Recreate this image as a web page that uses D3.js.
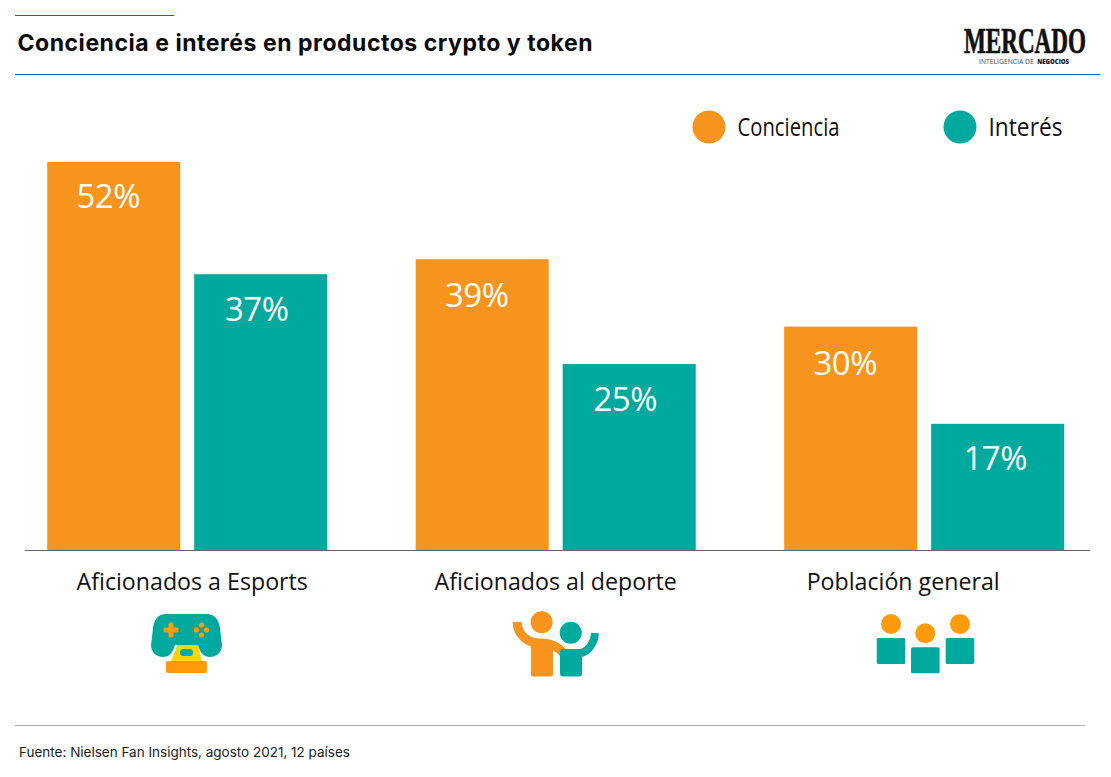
<!DOCTYPE html>
<html>
<head>
<meta charset="utf-8">
<script src="https://cdn.jsdelivr.net/npm/d3@7"></script>
<style>
html, body { margin: 0; padding: 0; background: #fff; }
svg { display: block; }
</style>
</head>
<body>
<svg width="1111" height="777"></svg>
<script>
// data
var categories = ["Aficionados a Esports", "Aficionados al deporte", "Población general"];
var seriesNames = ["Conciencia", "Interés"];
var conciencia = [52, 39, 30];
var interes = [37, 25, 17];

var orange = "#f7941d", teal = "#00a99d", blue = "#0b66c3";
var iconOrange = "#ff9a0a";
var sans = "'Open Sans', sans-serif";
var titleFont = "Inter, sans-serif";

var svg = d3.select("svg");

var x0 = d3.scaleBand().domain(categories).range([47.2, 1064.2]).paddingInner(0.24);
var x1 = d3.scaleBand().domain(seriesNames).range([0, x0.bandwidth()]).paddingInner(0.095);
var y = d3.scaleLinear().domain([0, 52]).range([551, 162]);
var color = d3.scaleOrdinal().domain(seriesNames).range([orange, teal]);

// header
svg.append("line").attr("x1", 15).attr("x2", 174).attr("y1", 15.5).attr("y2", 15.5)
  .attr("stroke", blue).attr("stroke-width", 1);
svg.append("line").attr("x1", 15).attr("x2", 1100).attr("y1", 74.5).attr("y2", 74.5)
  .attr("stroke", blue).attr("stroke-width", 1);
svg.append("text").attr("x", 17.5).attr("y", 51)
  .attr("font-family", titleFont).attr("font-weight", 700).attr("font-size", 23)
  .attr("textLength", 575).attr("fill", "#0a0a0a")
  .text("Conciencia e interés en productos crypto y token");

// logo
svg.append("text").attr("transform", "translate(964,53) scale(0.68,1.06)")
  .attr("font-family", "'Liberation Serif', serif").attr("font-weight", 700).attr("font-size", 34)
  .attr("fill", "#111").attr("stroke", "#111").attr("stroke-width", 0.7)
  .text("MERCADO");
svg.append("text").attr("x", 979).attr("y", 64)
  .attr("font-family", sans).attr("font-size", 6.8).attr("fill", "#444")
  .text("INTELIGENCIA DE");
svg.append("text").attr("x", 1069).attr("y", 64).attr("text-anchor", "end")
  .attr("font-family", sans).attr("font-size", 6).attr("font-weight", 800).attr("fill", "#111")
  .text("NEGOCIOS");

// legend
var legendX = d3.scaleOrdinal().domain(seriesNames).range([709, 960]);
var legendWidth = [102, 74];
var legend = svg.selectAll("g.legend").data(seriesNames).enter().append("g")
  .attr("class", "legend")
  .attr("transform", function(d) { return "translate(" + legendX(d) + ",127)"; });
legend.append("circle").attr("r", 16.5).attr("fill", function(d) { return color(d); });
legend.append("text").attr("x", 28.5).attr("y", 9)
  .attr("font-family", sans).attr("font-size", 25).attr("fill", "#111")
  .attr("textLength", function(d, i) { return legendWidth[i]; })
  .attr("lengthAdjust", "spacingAndGlyphs")
  .text(function(d) { return d; });

// bars
var rows = categories.map(function(c, i) {
  return [
    { cat: c, name: seriesNames[0], value: conciencia[i] },
    { cat: c, name: seriesNames[1], value: interes[i] }
  ];
});
var bars = d3.merge(rows);

svg.selectAll("rect.bar").data(bars).enter().append("rect")
  .attr("class", "bar")
  .attr("x", function(d) { return x0(d.cat) + x1(d.name); })
  .attr("y", function(d) { return y(d.value); })
  .attr("width", x1.bandwidth())
  .attr("height", function(d) { return y(0) - y(d.value); })
  .attr("fill", function(d) { return color(d.name); });

// labels do not sit quite centred in the original
var valueShift = [-5.5, -4, -5.5, -4, -5.5, -2.5];
var valueDrop = [46, 47, 47.5, 47, 48, 46.5];
svg.selectAll("text.val").data(bars).enter().append("text")
  .attr("class", "val")
  .attr("x", function(d, i) { return x0(d.cat) + x1(d.name) + x1.bandwidth() / 2 + valueShift[i]; })
  .attr("y", function(d, i) { return y(d.value) + valueDrop[i]; })
  .attr("text-anchor", "middle")
  .attr("font-family", sans).attr("font-size", 33).attr("letter-spacing", -0.5).attr("fill", "#fff")
  .text(function(d) { return d.value + "%"; });

// baseline and category labels
var labelShift = [5, 0, -21];
svg.append("line").attr("x1", 25).attr("x2", 1090).attr("y1", y(0) - 0.5).attr("y2", y(0) - 0.5)
  .attr("stroke", "#666").attr("stroke-width", 1);
svg.selectAll("text.cat").data(categories).enter().append("text")
  .attr("class", "cat")
  .attr("x", function(d, i) { return x0(d) + x0.bandwidth() / 2 + labelShift[i]; })
  .attr("y", 590)
  .attr("text-anchor", "middle")
  .attr("font-family", sans).attr("font-size", 23.2).attr("fill", "#111")
  .text(function(d) { return d; });

// icon: game controller
var pad = svg.append("g");
pad.append("path").attr("fill", "#ffd400").attr("d", "M177,645L198,645L202,662L171,662Z");
pad.append("rect").attr("x", 166).attr("y", 661).attr("width", 41).attr("height", 12).attr("rx", 2).attr("fill", iconOrange);
pad.append("path").attr("fill", teal)
  .attr("d", "M166,614L206,614C215,614 219,620 220,628L222,645C222,652 217,657 210,657C204,657 200,653 198,645L175,645C173,653 169,657 163,657C156,657 151,652 151,645L153,628C154,620 158,614 166,614Z");
pad.append("rect").attr("x", 180).attr("y", 649).attr("width", 13).attr("height", 7).attr("rx", 3.5).attr("fill", teal);
pad.append("rect").attr("x", 163.5).attr("y", 627.5).attr("width", 15).attr("height", 5).attr("rx", 1.5).attr("fill", iconOrange);
pad.append("rect").attr("x", 168.5).attr("y", 622.5).attr("width", 5).attr("height", 15).attr("rx", 1.5).attr("fill", iconOrange);
pad.selectAll("circle").data([[0, -5], [5, 0], [0, 5], [-5, 0]]).enter().append("circle")
  .attr("cx", function(d) { return 201.5 + d[0]; })
  .attr("cy", function(d) { return 630 + d[1]; })
  .attr("r", 2.6).attr("fill", iconOrange);

// icon: two fans
var fans = svg.append("g");
fans.append("circle").attr("cx", 541.7).attr("cy", 622.3).attr("r", 11).attr("fill", orange);
fans.append("path").attr("fill", "none").attr("stroke", orange).attr("stroke-width", 9)
  .attr("d", "M517,622C518,636 528,643 540,643C550,643 558,646 564,654");
fans.append("rect").attr("x", 531).attr("y", 643).attr("width", 22).attr("height", 33.5).attr("rx", 2).attr("fill", orange);
fans.append("circle").attr("cx", 570.7).attr("cy", 632.7).attr("r", 11).attr("fill", teal);
fans.append("rect").attr("x", 560).attr("y", 649).attr("width", 22).attr("height", 27.5).attr("rx", 3).attr("fill", teal);
fans.append("path").attr("fill", "none").attr("stroke", teal).attr("stroke-width", 8)
  .attr("d", "M575,654C586,654 594,646 595,633");

// icon: general population
var people = svg.append("g");
var headX = [891, 925.3, 960], headY = [624, 633.3, 624];
people.selectAll("circle").data(headX).enter().append("circle")
  .attr("cx", function(d) { return d; })
  .attr("cy", function(d, i) { return headY[i]; })
  .attr("r", 10).attr("fill", iconOrange);
people.selectAll("rect").data(headX).enter().append("rect")
  .attr("x", function(d) { return d - 14.3; })
  .attr("y", function(d, i) { return headY[i] + 14; })
  .attr("width", 28.6).attr("height", 26).attr("rx", 1.5).attr("fill", teal);

// footer
svg.append("line").attr("x1", 15).attr("x2", 1085).attr("y1", 725.5).attr("y2", 725.5)
  .attr("stroke", "#aaa").attr("stroke-width", 1);
svg.append("text").attr("x", 19).attr("y", 757)
  .attr("font-family", titleFont).attr("font-size", 13.5).attr("textLength", 331).attr("fill", "#222")
  .text("Fuente: Nielsen Fan Insights, agosto 2021, 12 países");
</script>
</body>
</html>
